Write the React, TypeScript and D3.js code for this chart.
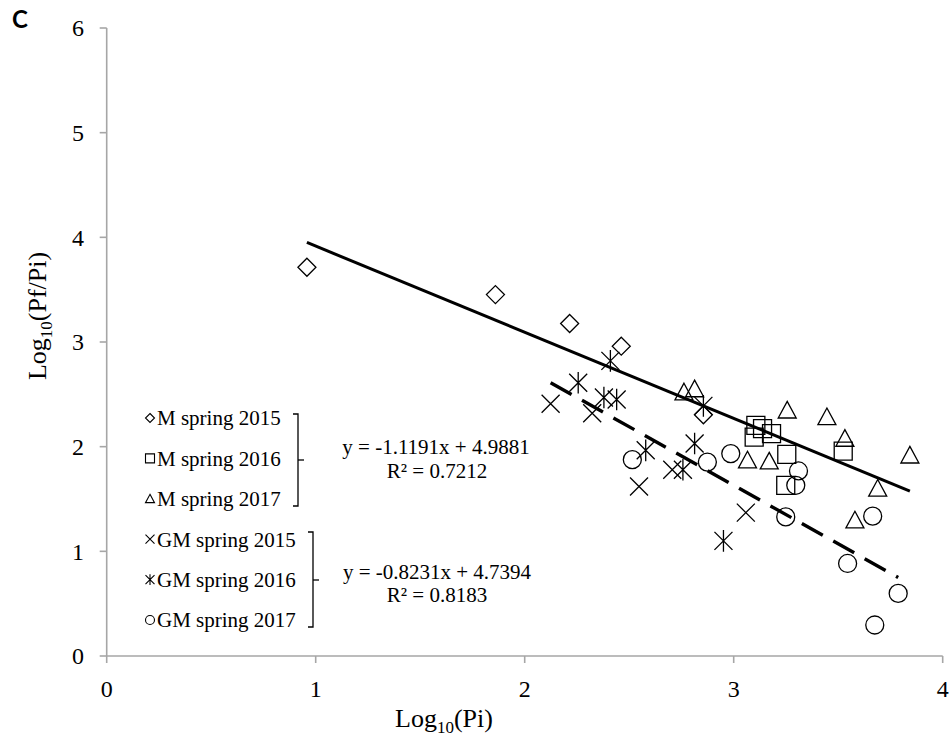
import React from 'react';
import * as d3 from 'd3';

// ---- data ----
const mSpring2015X = [0.958, 1.86, 2.215, 2.462, 2.855];
const mSpring2015Y = [3.714, 3.453, 3.177, 2.96, 2.305];
const mSpring2016X = [3.106, 3.138, 3.098, 3.181, 3.254, 3.249, 3.524];
const mSpring2016Y = [2.204, 2.172, 2.092, 2.124, 1.927, 1.631, 1.958];
const mSpring2017X = [2.762, 2.813, 3.256, 3.446, 3.532, 3.843, 3.066, 3.17, 3.689, 3.58];
const mSpring2017Y = [2.52, 2.55, 2.347, 2.283, 2.077, 1.917, 1.87, 1.86, 1.6, 1.297];
const gmSpring2015X = [2.124, 2.323, 2.706, 2.547, 3.058];
const gmSpring2015Y = [2.41, 2.32, 1.78, 1.62, 1.37];
const gmSpring2016X = [2.41, 2.256, 2.379, 2.44, 2.855, 2.579, 2.813, 2.757, 2.951];
const gmSpring2016Y = [2.82, 2.61, 2.47, 2.45, 2.39, 1.965, 2.03, 1.78, 1.1];
const gmSpring2017X = [2.515, 2.874, 2.986, 3.31, 3.297, 3.249, 3.665, 3.545, 3.787, 3.675];
const gmSpring2017Y = [1.876, 1.853, 1.934, 1.768, 1.631, 1.329, 1.336, 0.884, 0.598, 0.296];

const seriesNames = ['M spring 2015', 'M spring 2016', 'M spring 2017', 'GM spring 2015', 'GM spring 2016', 'GM spring 2017'];
const seriesShapes = ['diamond', 'square', 'triangle', 'cross', 'star', 'circle'];

// trendlines as drawn (slope, intercept)
const trendSolid = [-0.8231, 4.7394];
const trendDashed = [-1.1191, 4.9881];
const eqLabelsM = ['y = -1.1191x + 4.9881', 'R² = 0.7212'];
const eqLabelsGM = ['y = -0.8231x + 4.7394', 'R² = 0.8183'];

const xTicks = [0, 1, 2, 3, 4];
const yTicks = [0, 1, 2, 3, 4, 5, 6];

const W = 950;
const H = 741;
const SERIF = '"Liberation Serif", "Times New Roman", serif';

const x = d3.scaleLinear().domain([0, 4]).range([106.7, 942.7]);
const y = d3.scaleLinear().domain([0, 6]).range([656, 28]);

function markerPath(shape: string, h: number): string {
  switch (shape) {
    case 'diamond':
      return `M0,${-h}L${h},0L0,${h}L${-h},0Z`;
    case 'square':
      return `M${-h},${-h}L${h},${-h}L${h},${h}L${-h},${h}Z`;
    case 'triangle':
      return `M0,${-h}L${h},${h * 0.85}L${-h},${h * 0.85}Z`;
    case 'cross':
      return `M${-h},${-h}L${h},${h}M${h},${-h}L${-h},${h}`;
    case 'star':
      return `M${-h},${-h}L${h},${h}M${h},${-h}L${-h},${h}M0,${-h * 1.2}L0,${h * 1.2}`;
    default:
      return '';
  }
}

function Marker({ shape, cx, cy, h, sw }: { shape: string; cx: number; cy: number; h: number; sw: number }) {
  if (shape === 'circle') {
    return <circle cx={cx} cy={cy} r={h} fill="white" fillOpacity={0} stroke="#000" strokeWidth={sw} />;
  }
  return (
    <path
      d={markerPath(shape, h)}
      transform={`translate(${cx},${cy})`}
      fill="none"
      stroke="#000"
      strokeWidth={sw}
    />
  );
}

export default function App() {
  const series = [
    { xs: mSpring2015X, ys: mSpring2015Y },
    { xs: mSpring2016X, ys: mSpring2016Y },
    { xs: mSpring2017X, ys: mSpring2017Y },
    { xs: gmSpring2015X, ys: gmSpring2015Y },
    { xs: gmSpring2016X, ys: gmSpring2016Y },
    { xs: gmSpring2017X, ys: gmSpring2017Y },
  ];

  const mXs = [...mSpring2015X, ...mSpring2016X, ...mSpring2017X];
  const gmXs = [...gmSpring2015X, ...gmSpring2016X, ...gmSpring2017X];
  const line = d3
    .line<[number, number]>()
    .x((d) => x(d[0]))
    .y((d) => y(d[1]));
  const solidExt = d3.extent(mXs) as [number, number];
  const dashedExt = d3.extent(gmXs) as [number, number];
  const solidPts: [number, number][] = solidExt.map((v) => [v, trendSolid[0] * v + trendSolid[1]]);
  const dashedPts: [number, number][] = dashedExt.map((v) => [v, trendDashed[0] * v + trendDashed[1]]);

  const legendY0 = 418;
  const legendStep = 40.4;

  return (
    <svg
      width={W}
      height={H}
      style={{ position: 'absolute', left: 0, top: 0, background: '#fff' }}
      fontFamily={SERIF}
    >
      <rect x={0} y={0} width={W} height={H} fill="#fff" />
      {/* panel letter */}
      <text x={12} y={28} fontFamily='Lato, "Open Sans", sans-serif' fontWeight={700} fontSize={24}>
        C
      </text>

      {/* axes */}
      <g stroke="#a6a6a6" strokeWidth={1.6}>
        <line x1={x(0)} x2={x(0)} y1={y(6)} y2={y(0)} />
        <line x1={x(0)} x2={x(4)} y1={y(0)} y2={y(0)} />
        {yTicks.map((t) => (
          <line key={'yt' + t} x1={x(0) - 7} x2={x(0)} y1={y(t)} y2={y(t)} />
        ))}
        {xTicks.map((t) => (
          <line key={'xt' + t} x1={x(t)} x2={x(t)} y1={y(0)} y2={y(0) + 7} />
        ))}
      </g>
      {yTicks.map((t) => (
        <text key={'yl' + t} x={84} y={y(t)} dy="0.35em" textAnchor="end" fontSize={24}>
          {t}
        </text>
      ))}
      {xTicks.map((t) => (
        <text key={'xl' + t} x={x(t)} y={697} textAnchor="middle" fontSize={24}>
          {t}
        </text>
      ))}

      {/* axis titles */}
      <text x={444} y={727} textAnchor="middle" fontSize={26}>
        Log<tspan fontSize={17} dy={6}>10</tspan>
        <tspan dy={-6}>(Pi)</tspan>
      </text>
      <text
        transform={`translate(46,${316}) rotate(-90)`}
        textAnchor="middle"
        fontSize={26}
      >
        Log<tspan fontSize={17} dy={6}>10</tspan>
        <tspan dy={-6}>(Pf/Pi)</tspan>
      </text>

      {/* trendlines */}
      <path d={line(solidPts) || ''} fill="none" stroke="#000" strokeWidth={3} />
      <path
        d={line(dashedPts) || ''}
        fill="none"
        stroke="#000"
        strokeWidth={3.4}
        strokeDasharray="24 12"
      />

      {/* points */}
      {series.map((s, i) =>
        s.xs.map((xv, j) => (
          <Marker key={`p${i}-${j}`} shape={seriesShapes[i]} cx={x(xv)} cy={y(s.ys[j])} h={9} sw={1.3} />
        ))
      )}

      {/* legend */}
      {seriesNames.map((name, i) => {
        const cy = legendY0 + i * legendStep;
        return (
          <g key={'lg' + i}>
            <Marker shape={seriesShapes[i]} cx={150} cy={cy} h={4.5} sw={1.1} />
            <text x={157} y={cy} dy="0.35em" fontSize={21}>
              {name}
            </text>
          </g>
        );
      })}

      {/* brackets */}
      <g stroke="#000" strokeWidth={1.3} fill="none">
        <path d="M293,414H298V506H293" />
        <path d="M298,460H304" />
        <path d="M308,532H313V627H308" />
        <path d="M313,580H319" />
      </g>

      {/* equations */}
      <text x={436} y={447} dy="0.35em" textAnchor="middle" fontSize={21}>
        {eqLabelsM[0]}
      </text>
      <text x={437} y={471} dy="0.35em" textAnchor="middle" fontSize={21}>
        {eqLabelsM[1]}
      </text>
      <text x={437} y={572} dy="0.35em" textAnchor="middle" fontSize={21}>
        {eqLabelsGM[0]}
      </text>
      <text x={437} y={595} dy="0.35em" textAnchor="middle" fontSize={21}>
        {eqLabelsGM[1]}
      </text>
    </svg>
  );
}
